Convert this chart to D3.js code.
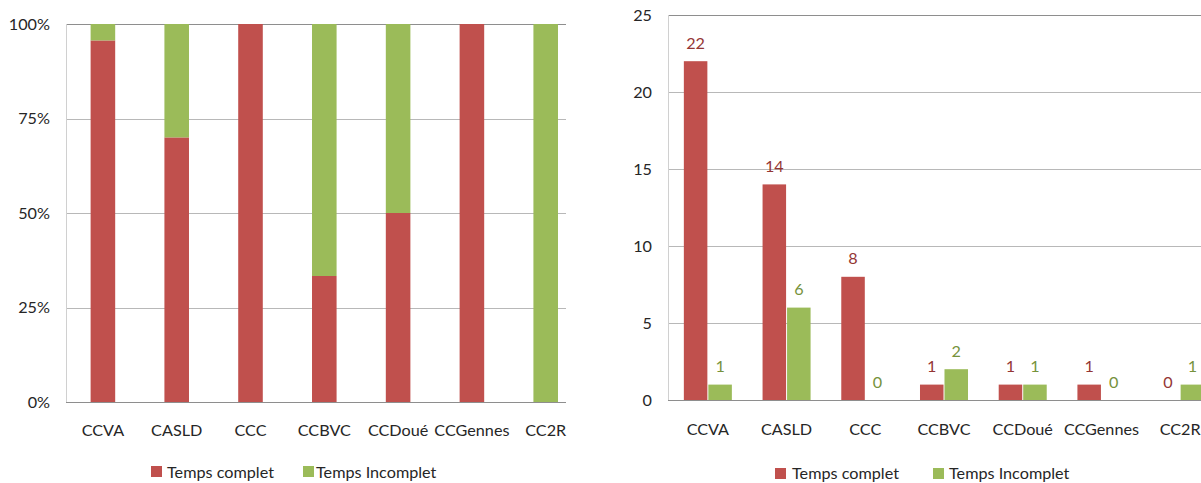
<!DOCTYPE html>
<html>
<head>
<meta charset="utf-8">
<script src="https://cdn.jsdelivr.net/npm/d3@7"></script>
<style>
  html, body { margin: 0; padding: 0; background: #fff; }
  svg { display: block; }
  text { font-family: Lato, "Open Sans", sans-serif; }
</style>
</head>
<body>
<svg id="chart" width="1201" height="483"></svg>
<script>
const categories = ["CCVA", "CASLD", "CCC", "CCBVC", "CCDoué", "CCGennes", "CC2R"];
const tempsComplet = [22, 14, 8, 1, 1, 1, 0];
const tempsIncomplet = [1, 6, 0, 2, 1, 0, 1];
const seriesNames = ["Temps complet", "Temps Incomplet"];
const pctTicks = [0, 0.25, 0.5, 0.75, 1];
const countTicks = [0, 5, 10, 15, 20, 25];

const colors = ["#C0504D", "#9BBB59"];
const labelColors = ["#943634", "#76923C"];
const textColor = "#262626";
const fontSize = 16.2;

const rows = categories.map((c, i) => ({ cat: c, c: tempsComplet[i], i: tempsIncomplet[i] }));

const svg = d3.select("#chart");

// ---------- LEFT: 100% stacked ----------
const L = svg.append("g");
L.append("clipPath").attr("id", "clipL").append("rect")
  .attr("x", 0).attr("y", 0).attr("width", 566).attr("height", 483);
const Lc = L.append("g").attr("clip-path", "url(#clipL)");

const xL = d3.scaleBand().domain(categories).range([66, 582.6])
  .paddingInner(0.667).paddingOuter(0.3335);
const yL = d3.scaleLinear().domain([0, 1]).range([402, 24]);

Lc.append("g").selectAll("line").data(pctTicks.filter(t => t > 0)).join("line")
  .attr("x1", 66).attr("x2", 582)
  .attr("y1", d => Math.round(yL(d)) + 0.5).attr("y2", d => Math.round(yL(d)) + 0.5)
  .attr("stroke", d => d === 1 ? "#8e8e8e" : "#b8b8b8").attr("stroke-width", 1);

L.append("line").attr("x1", 66.5).attr("x2", 66.5).attr("y1", yL(1)).attr("y2", yL(0))
  .attr("stroke", "#d0d0d0");

const stack = d3.stack().keys(["c", "i"]).offset(d3.stackOffsetExpand);
const stacked = stack(rows);
stacked.forEach((s, si) => {
  Lc.append("g").selectAll("rect").data(s).join("rect")
    .attr("x", d => xL(d.data.cat))
    .attr("width", xL.bandwidth())
    .attr("y", d => yL(isNaN(d[1]) ? 0 : d[1]))
    .attr("height", d => Math.max(0, yL(isNaN(d[0]) ? 0 : d[0]) - yL(isNaN(d[1]) ? 0 : d[1])))
    .attr("fill", colors[si]);
});

Lc.append("line").attr("x1", 66).attr("x2", 582)
  .attr("y1", Math.round(yL(0)) + 0.5).attr("y2", Math.round(yL(0)) + 0.5)
  .attr("stroke", "#8e8e8e");

const yAxisL = d3.axisLeft(yL).tickValues(pctTicks).tickFormat(d3.format(".0%")).tickSize(0).tickPadding(16);
const gyL = L.append("g").attr("transform", "translate(66,0)").call(yAxisL);
gyL.select(".domain").remove();
gyL.selectAll("text").attr("font-size", fontSize).attr("fill", textColor)
  .attr("font-family", "Lato, sans-serif");

const xAxisL = d3.axisBottom(xL).tickSize(0).tickPadding(22);
const gxL = L.append("g").attr("transform", "translate(0,402)").call(xAxisL);
gxL.select(".domain").remove();
gxL.selectAll("text").attr("font-size", fontSize).attr("fill", textColor)
  .attr("font-family", "Lato, sans-serif");

const legL = L.append("g");
[[151, 167], [303, 316]].forEach((p, i) => {
  legL.append("rect").attr("x", p[0]).attr("y", 466).attr("width", 11).attr("height", 11).attr("fill", colors[i]);
  legL.append("text").attr("x", p[1]).attr("y", 478).attr("font-size", fontSize).attr("fill", textColor)
    .text(seriesNames[i]);
});

// ---------- RIGHT: clustered ----------
const R = svg.append("g");
const xR = d3.scaleBand().domain(categories).range([668.5, 1219.5])
  .paddingInner(0.39).paddingOuter(0.195);
const x1 = d3.scaleBand().domain(["c", "i"]).range([0, xR.bandwidth()]).paddingInner(0.04);
const yR = d3.scaleLinear().domain([0, 25]).range([400, 15]);

R.append("g").selectAll("line").data(countTicks.filter(t => t > 0)).join("line")
  .attr("x1", 668).attr("x2", 1201)
  .attr("y1", d => Math.round(yR(d)) + 0.5).attr("y2", d => Math.round(yR(d)) + 0.5)
  .attr("stroke", d => d === 25 ? "#8e8e8e" : "#b8b8b8");

R.append("line").attr("x1", 668.5).attr("x2", 668.5).attr("y1", yR(25)).attr("y2", yR(0))
  .attr("stroke", "#d0d0d0");

const keys = ["c", "i"];
keys.forEach((k, si) => {
  const g = R.append("g");
  g.selectAll("rect").data(rows).join("rect")
    .attr("x", d => xR(d.cat) + x1(k))
    .attr("width", x1.bandwidth())
    .attr("y", d => yR(d[k]))
    .attr("height", d => yR(0) - yR(d[k]))
    .attr("fill", colors[si]);
  g.selectAll("text").data(rows).join("text")
    .attr("x", d => xR(d.cat) + x1(k) + x1.bandwidth() / 2)
    .attr("y", d => yR(d[k]) - 12.5)
    .attr("text-anchor", "middle")
    .attr("font-size", fontSize)
    .attr("fill", labelColors[si])
    .text(d => d[k]);
});

R.append("line").attr("x1", 668).attr("x2", 1201)
  .attr("y1", Math.round(yR(0)) + 0.5).attr("y2", Math.round(yR(0)) + 0.5)
  .attr("stroke", "#8e8e8e");

const yAxisR = d3.axisLeft(yR).tickValues(countTicks).tickSize(0).tickPadding(16);
const gyR = R.append("g").attr("transform", "translate(668,0)").call(yAxisR);
gyR.select(".domain").remove();
gyR.selectAll("text").attr("font-size", fontSize).attr("fill", textColor)
  .attr("font-family", "Lato, sans-serif");

const xAxisR = d3.axisBottom(xR).tickSize(0).tickPadding(23);
const gxR = R.append("g").attr("transform", "translate(0,400)").call(xAxisR);
gxR.select(".domain").remove();
gxR.selectAll("text").attr("font-size", fontSize).attr("fill", textColor)
  .attr("font-family", "Lato, sans-serif");

const legR = R.append("g");
[[775, 792], [933, 949]].forEach((p, i) => {
  legR.append("rect").attr("x", p[0]).attr("y", 468).attr("width", 11).attr("height", 11).attr("fill", colors[i]);
  legR.append("text").attr("x", p[1]).attr("y", 479).attr("font-size", fontSize).attr("fill", textColor)
    .text(seriesNames[i]);
});
</script>
</body>
</html>
